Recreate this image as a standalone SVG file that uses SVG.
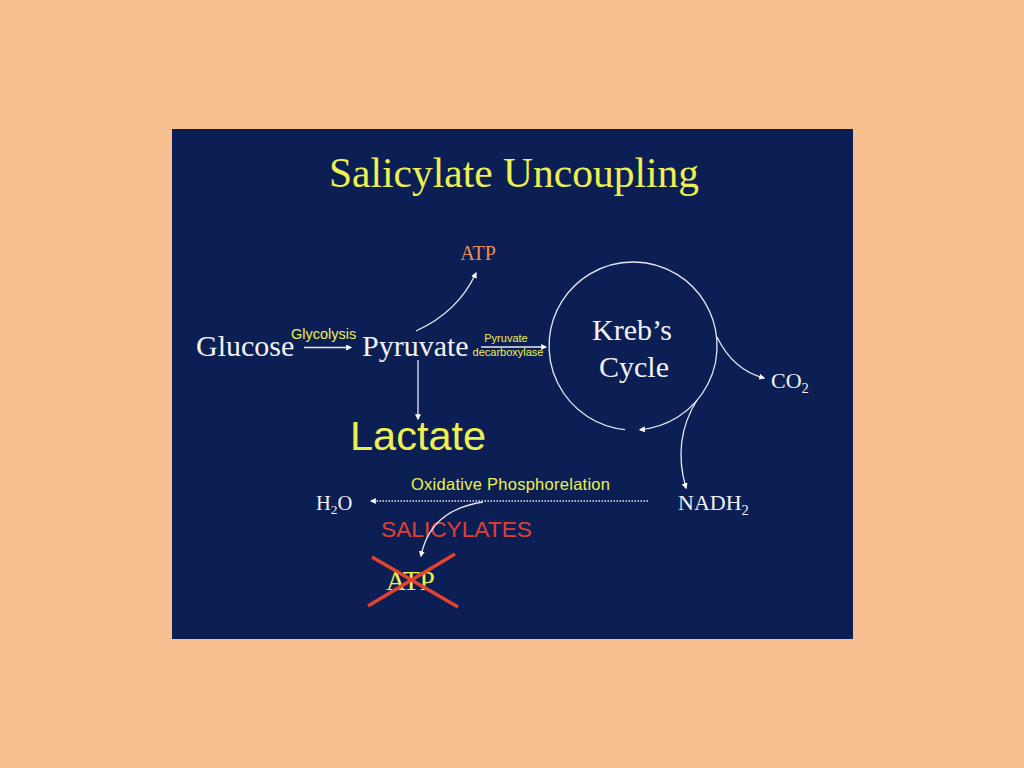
<svg xmlns="http://www.w3.org/2000/svg" width="1024" height="768" viewBox="0 0 1024 768">
<defs>
<marker id="ah" viewBox="0 0 10 10" refX="8" refY="5" markerWidth="6" markerHeight="6" markerUnits="userSpaceOnUse" orient="auto">
<path d="M0,0 L10,5 L0,10 z" fill="#FFFFFF"/>
</marker>
<style>
.serif{font-family:"Liberation Serif","Times New Roman",serif;}
.sans{font-family:"Liberation Sans",Arial,sans-serif;}
.w{fill:#F2F2F2;}
.y{fill:#EEF050;}
.con{fill:none;stroke:#E6E9F2;stroke-width:1.3;marker-end:url(#ah);}
</style>
</defs>
<rect x="0" y="0" width="1024" height="768" fill="#F8BF91"/>
<rect x="172" y="129" width="681" height="510" fill="#0C1F55"/>
<g id="title"><text class="serif y" x="514" y="187" font-size="41.5" text-anchor="middle">Salicylate Uncoupling</text></g>
<g id="atp-top"><text class="serif" x="478" y="260" font-size="20" fill="#E8904E" text-anchor="middle">ATP</text></g>
<g id="glucose"><text class="serif w" x="196" y="356" font-size="30">Glucose</text></g>
<g id="glycolysis"><text class="sans y" x="291" y="339" font-size="14.5">Glycolysis</text></g>
<g id="pyruvate"><text class="serif w" x="362" y="356" font-size="30">Pyruvate</text></g>
<g id="pyruvate-decarboxylase"><text class="sans y" x="506" y="342" font-size="11" text-anchor="middle">Pyruvate</text><text class="sans y" x="508" y="356" font-size="11" text-anchor="middle">decarboxylase</text></g>
<g id="krebs"><text class="serif w" x="632" y="340" font-size="30" text-anchor="middle">Kreb’s</text><text class="serif w" x="634" y="377" font-size="30" text-anchor="middle">Cycle</text></g>
<g id="co2"><text class="serif w" x="771" y="388" font-size="22">CO<tspan font-size="14.5" dy="5">2</tspan></text></g>
<g id="nadh2"><text class="serif w" x="678" y="510" font-size="22">NADH<tspan font-size="14.5" dy="5">2</tspan></text></g>
<g id="lactate"><text class="sans y" x="350" y="450" font-size="41.5">Lactate</text></g>
<g id="oxphos"><text class="sans y" x="411" y="490" font-size="16.5" textLength="199">Oxidative Phosphorelation</text></g>
<g id="h2o"><text class="serif w" x="316" y="510" font-size="20.5">H<tspan font-size="13.5" dy="4">2</tspan><tspan dy="-4">O</tspan></text></g>
<g id="salicylates"><text class="sans" x="381" y="537" font-size="22.7" fill="#E23F33">SALICYLATES</text></g>
<g id="atp-blocked"><text class="serif y" x="386" y="590" font-size="27.5">ATP</text>
<line x1="372" y1="557" x2="458" y2="607" stroke="#E2442E" stroke-width="3.5"/>
<line x1="368" y1="606" x2="455" y2="554" stroke="#E2442E" stroke-width="3.5"/></g>
<g id="connectors">
<path class="con" d="M304,347.5 L351,347.5"/>
<path class="con" d="M481,347 L546,347"/>
<path class="con" d="M416,331 Q458,312 476,273"/>
<path class="con" d="M418,360 L418,419"/>
<path class="con" d="M625,429.6 A84,84 0 1 1 640,429.7"/>
<path class="con" d="M717,337 Q733,370 764,378"/>
<path class="con" d="M697,400 Q672,440 686,488"/>
<path class="con" d="M648,501 L371,501" stroke-dasharray="1.5 1.5"/>
<path class="con" d="M483,502 Q430,510 421,556"/>
</g>
</svg>
